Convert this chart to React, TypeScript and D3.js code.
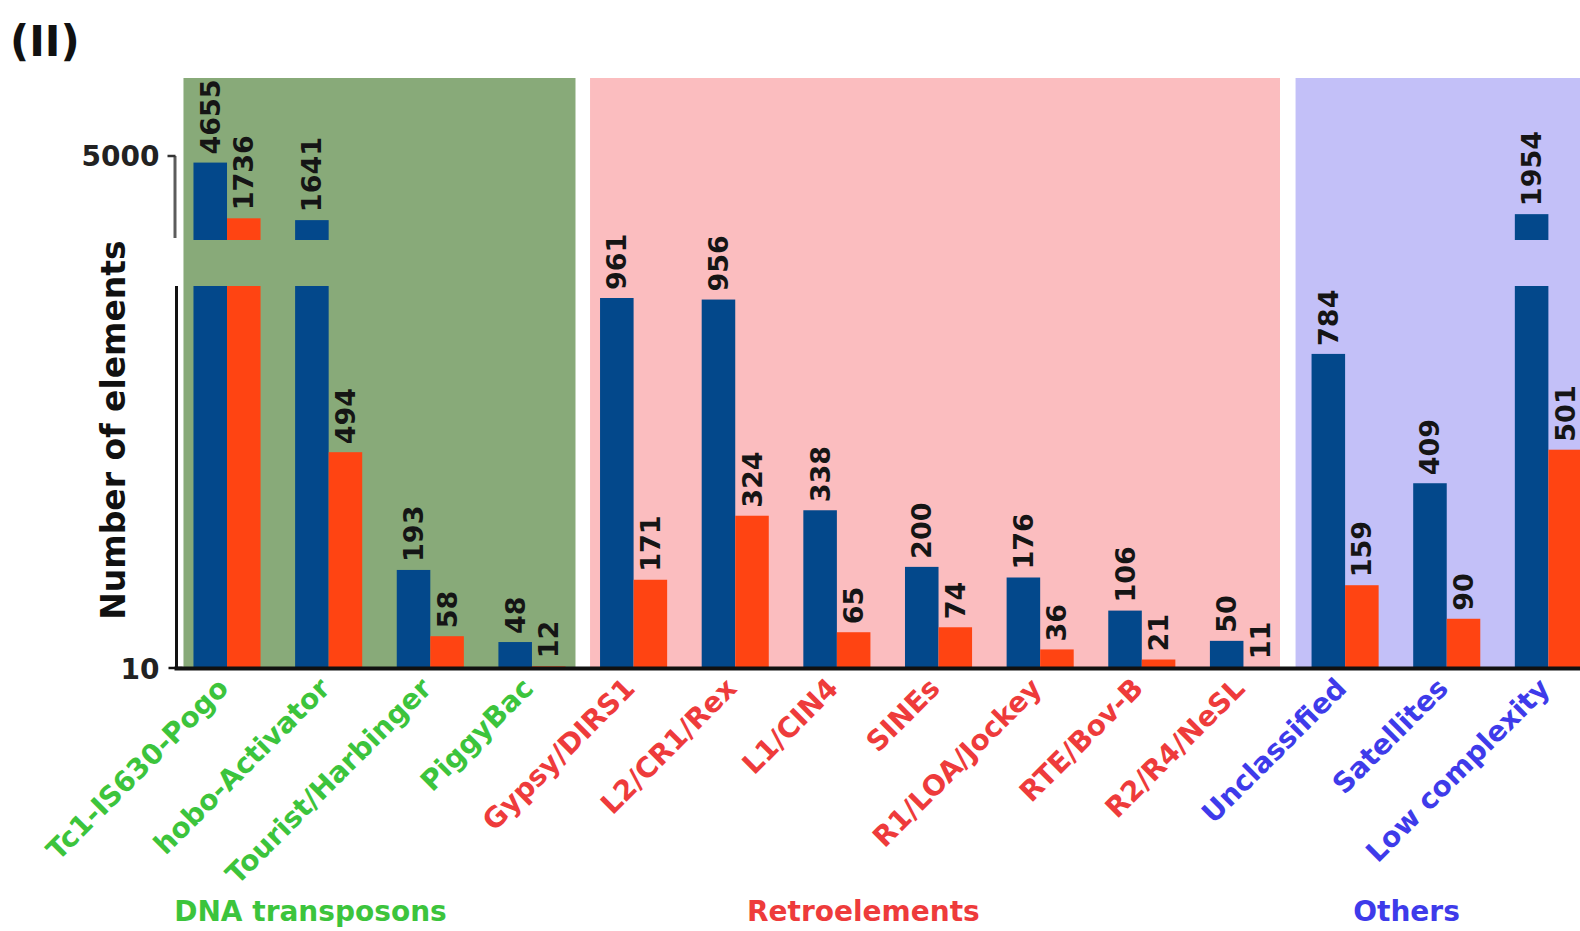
import React from "react";
import * as d3 from "d3";

const categories = [
  "Tc1-IS630-Pogo",
  "hobo-Activator",
  "Tourist/Harbinger",
  "PiggyBac",
  "Gypsy/DIRS1",
  "L2/CR1/Rex",
  "L1/CIN4",
  "SINEs",
  "R1/LOA/Jockey",
  "RTE/Bov-B",
  "R2/R4/NeSL",
  "Unclassified",
  "Satellites",
  "Low complexity",
];
const blueValues = [4655, 1641, 193, 48, 961, 956, 338, 200, 176, 106, 50, 784, 409, 1954];
const orangeValues = [1736, 494, 58, 12, 171, 324, 65, 74, 36, 21, 11, 159, 90, 501];
const groupNames = ["DNA transposons", "Retroelements", "Others"];
const groupOf = [0, 0, 0, 0, 1, 1, 1, 1, 1, 1, 1, 2, 2, 2];
const lowerTicks = [10];
const upperTicks = [5000];
const BREAK = 1000;

const W = 1580;
const H = 931;
const FONT = "'DejaVu Sans', sans-serif";
const panelColors = ["#88aa79", "#fbbdbf", "#c3c0f8"];
const labelColors = ["#3cc43c", "#ee3b3b", "#3e3bea"];
const BLUE = "#03488b";
const ORANGE = "#ff4412";

export default function App() {
  const axisX = 176.5;
  const baseY = 668;
  const x = d3
    .scaleBand<string>()
    .domain(categories)
    .range([axisX, axisX + 14 * 101.6])
    .paddingInner(0.34)
    .paddingOuter(0.167);
  const bw = x.bandwidth() / 2;
  const yLow = d3.scalePow().exponent(0.78).domain([10, BREAK]).range([baseY, 286]).clamp(true);
  const yUp = d3.scaleLinear().domain([600, 5000]).range([240, 156]);

  const series = [
    { values: blueValues, color: BLUE, offset: 0 },
    { values: orangeValues, color: ORANGE, offset: bw },
  ];

  const groupRanges = groupNames.map((_, g) => {
    const idx = categories.map((_, i) => i).filter((i) => groupOf[i] === g);
    return [idx[0], idx[idx.length - 1]];
  });
  const padL = [10, 10, 16];
  const padR = [10, 3, 60];
  const groupLabelX = [
    x(categories[0])! + 117,
    x(categories[6])! + 60,
    x(categories[11])! + 95,
  ];

  return (
    <svg
      width={W}
      height={H}
      style={{ position: "absolute", left: 0, top: 0, background: "#fff" }}
      fontFamily={FONT}
    >
      <text x={10} y={56} fontSize={42} fontWeight="bold" fill="#111">
        (II)
      </text>

      {groupRanges.map(([a, b], g) => {
        const x0 = x(categories[a])! - padL[g];
        const x1 = x(categories[b])! + x.bandwidth() + padR[g];
        return (
          <rect
            key={"p" + g}
            x={x0}
            y={78}
            width={x1 - x0}
            height={baseY - 78}
            fill={panelColors[g]}
          />
        );
      })}

      {series.map((s, si) =>
        s.values.map((v, i) => {
          const bx = x(categories[i])! + s.offset;
          const parts = [];
          parts.push(
            <rect
              key={`l${si}-${i}`}
              x={bx}
              y={yLow(v)}
              width={bw}
              height={baseY - yLow(v)}
              fill={s.color}
            />
          );
          if (v > BREAK) {
            parts.push(
              <rect
                key={`u${si}-${i}`}
                x={bx}
                y={yUp(v)}
                width={bw}
                height={yUp.range()[0] - yUp(v)}
                fill={s.color}
              />
            );
          }
          const ly = (v > BREAK ? yUp(v) : yLow(v)) - 8;
          parts.push(
            <text
              key={`t${si}-${i}`}
              transform={`translate(${bx + bw / 2},${ly}) rotate(-90)`}
              dominantBaseline="central"
              fontSize={27}
              fontWeight="bold"
              fill="#151515"
            >
              {v}
            </text>
          );
          return <g key={`g${si}-${i}`}>{parts}</g>;
        })
      )}

      {/* y axis */}
      <line x1={axisX} x2={axisX} y1={yLow(BREAK)} y2={baseY + 2} stroke="#111" strokeWidth={3} />
      <line x1={axisX - 1.5} x2={axisX - 1.5} y1={yUp(5000)} y2={238} stroke="#5c5c5c" strokeWidth={3} />
      {lowerTicks.map((t) => (
        <g key={"lt" + t}>
          <line x1={axisX - 8} x2={axisX + 6} y1={yLow(t)} y2={yLow(t)} stroke="#111" strokeWidth={2.5} />
          <text
            x={axisX - 17}
            y={yLow(t) + 1}
            textAnchor="end"
            dominantBaseline="central"
            fontSize={28}
            fontWeight="bold"
            fill="#222"
          >
            {t}
          </text>
        </g>
      ))}
      {upperTicks.map((t) => (
        <g key={"ut" + t}>
          <line x1={axisX - 9} x2={axisX - 1} y1={yUp(t)} y2={yUp(t)} stroke="#333" strokeWidth={2.5} />
          <text
            x={axisX - 17}
            y={yUp(t)}
            textAnchor="end"
            dominantBaseline="central"
            fontSize={28}
            fontWeight="bold"
            fill="#222"
          >
            {t}
          </text>
        </g>
      ))}
      <text
        transform={`translate(125,430) rotate(-90)`}
        textAnchor="middle"
        fontSize={33}
        fontWeight="bold"
        fill="#111"
      >
        Number of elements
      </text>

      {/* x axis */}
      <line x1={axisX - 2} x2={W} y1={baseY + 0.5} y2={baseY + 0.5} stroke="#111" strokeWidth={4} />
      {categories.map((c, i) => (
        <text
          key={"xl" + c}
          transform={`translate(${x(c)! + x.bandwidth() / 2 + 3},${690}) rotate(-45)`}
          textAnchor="end"
          fontSize={28}
          fontWeight="bold"
          fill={labelColors[groupOf[i]]}
        >
          {c}
        </text>
      ))}
      {groupNames.map((g, gi) => (
        <text
          key={"gl" + g}
          x={groupLabelX[gi]}
          y={921}
          textAnchor="middle"
          fontSize={28}
          fontWeight="bold"
          fill={labelColors[gi]}
        >
          {g}
        </text>
      ))}
    </svg>
  );
}
